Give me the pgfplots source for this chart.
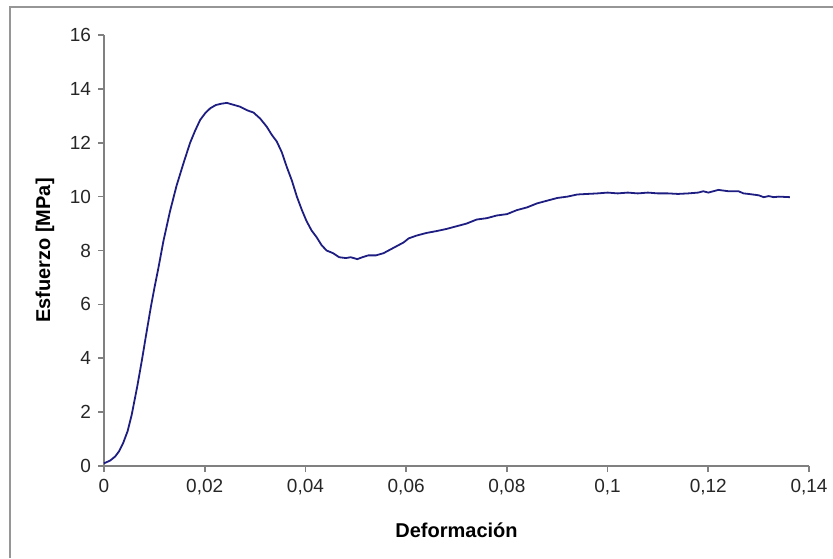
\documentclass[border=0pt]{standalone}
\usepackage{fontspec}
\setmainfont{Liberation Sans}
\usepackage{pgfplots}
\pgfplotsset{compat=1.18}

\definecolor{curve}{RGB}{30,30,130}
\definecolor{axgray}{RGB}{128,128,128}
\definecolor{framegray}{RGB}{150,150,150}

\begin{document}
\begin{tikzpicture}
  \useasboundingbox (0,0) rectangle (416.5pt,279pt);
  \draw[framegray, line width=0.8pt] (5pt,0) -- (5pt,275.5pt) -- (416.5pt,275.5pt);
  \begin{axis}[
      at={(52pt,46pt)}, anchor=south west,
      scale only axis,
      width=352.5pt, height=215.5pt,
      xmin=0, xmax=0.14,
      ymin=0, ymax=16,
      xtick={0,0.02,0.04,0.06,0.08,0.1,0.12,0.14},
      xticklabels={0,{0,02},{0,04},{0,06},{0,08},{0,1},{0,12},{0,14}},
      ytick={0,2,4,6,8,10,12,14,16},
      yticklabels={0,2,4,6,8,10,12,14,16},
      scaled x ticks=false,
      axis x line=bottom, axis y line=left,
      axis line style={axgray, line width=0.8pt, -},
      tick style={axgray, line width=0.8pt},
      tick align=outside,
      major tick length=3pt,
      tick label style={font=\fontsize{9.5}{11}\selectfont, text=black!85},
      xlabel={\textbf{Deformación}},
      ylabel={\textbf{Esfuerzo [MPa]}},
      label style={font=\fontsize{10}{12}\selectfont},
      xlabel style={at={(axis description cs:0.5,-0.1485)}, anchor=center},
      ylabel style={at={(axis description cs:-0.0837,0.5)}, anchor=center},
      clip=false,
    ]
    \addplot[color=curve, line width=0.9pt, mark=none] coordinates {
      (0, 0.1) (0.0012, 0.2) (0.0022, 0.35) (0.003, 0.55) (0.0038, 0.85)
      (0.0047, 1.3) (0.0055, 1.9) (0.0066, 2.95) (0.0075, 3.9) (0.0083, 4.8)
      (0.0093, 5.9) (0.0100, 6.6) (0.0108, 7.35) (0.0118, 8.35) (0.0131, 9.45)
      (0.0144, 10.4) (0.0158, 11.25) (0.0171, 12.0) (0.0181, 12.45)
      (0.0191, 12.85) (0.0201, 13.1) (0.0211, 13.28) (0.0222, 13.4)
      (0.0233, 13.45) (0.0244, 13.48) (0.0255, 13.42) (0.027, 13.34)
      (0.0285, 13.2) (0.0297, 13.12) (0.031, 12.9) (0.0323, 12.6)
      (0.0333, 12.3) (0.0343, 12.05) (0.0353, 11.65) (0.0363, 11.1)
      (0.0373, 10.6) (0.0383, 10.0) (0.0393, 9.5) (0.0402, 9.1)
      (0.0412, 8.75) (0.0422, 8.5) (0.0432, 8.2) (0.0442, 8.0)
      (0.0455, 7.9) (0.0467, 7.75) (0.048, 7.72) (0.049, 7.75)
      (0.0503, 7.68) (0.0513, 7.75) (0.0525, 7.82) (0.054, 7.82)
      (0.0555, 7.9) (0.057, 8.05) (0.0585, 8.2) (0.0595, 8.3)
      (0.0605, 8.45) (0.062, 8.55) (0.064, 8.65) (0.066, 8.72)
      (0.068, 8.8) (0.070, 8.9) (0.072, 9.0) (0.074, 9.15) (0.076, 9.2)
      (0.078, 9.3) (0.080, 9.35) (0.082, 9.5) (0.084, 9.6) (0.086, 9.75)
      (0.088, 9.85) (0.090, 9.95) (0.092, 10.0) (0.094, 10.08) (0.096, 10.1)
      (0.098, 10.12) (0.100, 10.15) (0.102, 10.12) (0.104, 10.15)
      (0.106, 10.12) (0.108, 10.15) (0.110, 10.12) (0.112, 10.12)
      (0.114, 10.1) (0.116, 10.12) (0.118, 10.15) (0.119, 10.2)
      (0.120, 10.15) (0.122, 10.25) (0.124, 10.2) (0.126, 10.2)
      (0.127, 10.12) (0.128, 10.1) (0.130, 10.05) (0.131, 9.98)
      (0.132, 10.02) (0.133, 9.98) (0.134, 10.0) (0.1362, 9.98)
    };
  \end{axis}
\end{tikzpicture}
\end{document}
